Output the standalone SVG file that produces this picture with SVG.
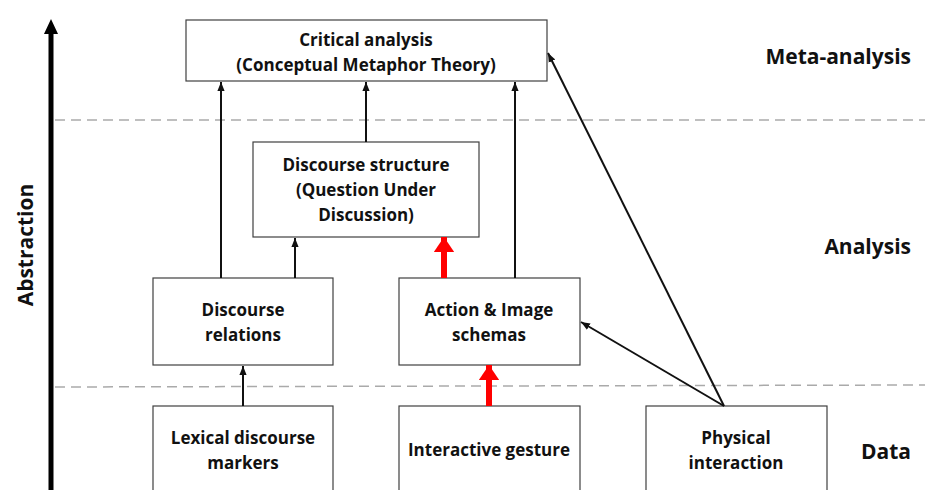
<svg xmlns="http://www.w3.org/2000/svg" width="925" height="490" viewBox="0 0 925 490">
<style>
.box{fill:#fff;stroke:#404040;stroke-width:1.2}
.t{font-family:"Open Sans","Liberation Sans",sans-serif;font-weight:700;font-size:17px;fill:#111;text-anchor:middle}
.lvl{font-family:"Open Sans","Liberation Sans",sans-serif;font-weight:700;font-size:21px;fill:#111;text-anchor:end}
.dash{stroke:#aaa;stroke-width:1.5;stroke-dasharray:10 6;fill:none}
.c{stroke:#111;stroke-width:2;fill:none;marker-end:url(#ah)}
.r{stroke:#f00;stroke-width:6;fill:none;marker-end:url(#rh)}
</style>
<defs>
<marker id="ah" viewBox="0 0 10 10" refX="10" refY="5" markerWidth="4.5" markerHeight="4.5" orient="auto" markerUnits="strokeWidth"><path d="M0,1 L10,5 L0,9 z" fill="#111"/></marker>
<marker id="rh" viewBox="0 0 10 10" refX="10" refY="5" markerWidth="2.5" markerHeight="3.4" orient="auto" markerUnits="strokeWidth" preserveAspectRatio="none"><path d="M0,0 L10,5 L0,10 z" fill="#f00"/></marker>
</defs>
<rect width="925" height="490" fill="#fff"/>
<g id="bands">
<line class="dash" x1="55" y1="120" x2="925" y2="120"/>
<line class="dash" x1="55" y1="387" x2="925" y2="385"/>
</g>
<g id="axis">
<line x1="51" y1="490" x2="51" y2="32" stroke="#000" stroke-width="5"/>
<path d="M44,34 L51,19 L58,34 z" fill="#000"/>
<text class="t" style="font-size:21px" transform="translate(33,245) rotate(-90)">Abstraction</text>
</g>
<g id="levels">
<text class="lvl" x="911" y="64">Meta-analysis</text>
<text class="lvl" x="911" y="254">Analysis</text>
<text class="lvl" x="911" y="459">Data</text>
</g>
<g id="critical">
<rect class="box" x="186" y="20" width="361" height="61"/>
<text class="t" x="366" y="46">Critical analysis</text>
<text class="t" x="366" y="71">(Conceptual Metaphor Theory)</text>
</g>
<g id="structure">
<rect class="box" x="253" y="142" width="226" height="95"/>
<text class="t" x="366" y="171">Discourse structure</text>
<text class="t" x="366" y="196">(Question Under</text>
<text class="t" x="366" y="221">Discussion)</text>
</g>
<g id="relations">
<rect class="box" x="153" y="278" width="180" height="87"/>
<text class="t" x="243" y="316">Discourse</text>
<text class="t" x="243" y="341">relations</text>
</g>
<g id="schemas">
<rect class="box" x="399" y="278" width="181" height="87"/>
<text class="t" x="489" y="316">Action &amp; Image</text>
<text class="t" x="489" y="341">schemas</text>
</g>
<g id="lexical">
<rect class="box" x="153" y="406" width="180" height="90"/>
<text class="t" x="243" y="444">Lexical discourse</text>
<text class="t" x="243" y="469">markers</text>
</g>
<g id="gesture">
<rect class="box" x="399" y="406" width="181" height="90"/>
<text class="t" x="489" y="456">Interactive gesture</text>
</g>
<g id="physical">
<rect class="box" x="646" y="406" width="181" height="90"/>
<text class="t" x="736" y="444">Physical</text>
<text class="t" x="736" y="469">interaction</text>
</g>
<g id="connectors">
<line class="c" x1="221" y1="278" x2="221" y2="82"/>
<line class="c" x1="295" y1="278" x2="295" y2="238"/>
<line class="c" x1="366" y1="142" x2="366" y2="82"/>
<line class="c" x1="515" y1="278" x2="515" y2="82"/>
<line class="c" x1="243" y1="406" x2="243" y2="366"/>
<line class="c" x1="724" y1="406" x2="548" y2="53"/>
<line class="c" x1="724" y1="406" x2="581" y2="322"/>
<line class="r" x1="444" y1="278" x2="444" y2="237"/>
<line class="r" x1="489" y1="406" x2="489" y2="365"/>
</g>
</svg>
